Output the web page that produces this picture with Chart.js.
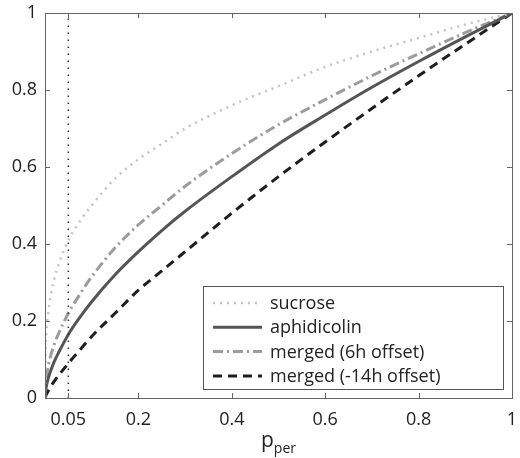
<!DOCTYPE html>
<html>
<head>
<meta charset="utf-8">
<script src="https://cdn.jsdelivr.net/npm/chart.js@4.4.1/dist/chart.umd.min.js"></script>
<style>
html, body { margin: 0; padding: 0; background: #fff; }
#wrap { width: 520px; height: 458px; }
</style>
</head>
<body>
<div id="wrap"><canvas id="fit-chart"></canvas></div>
<script>
// values
const pPer        = [0, 0.002, 0.005, 0.01, 0.02, 0.03, 0.05, 0.075, 0.1, 0.15, 0.2, 0.25, 0.3, 0.4, 0.5, 0.6, 0.7, 0.8, 0.9, 1];
const sucrose     = [0, 0.15, 0.20, 0.25, 0.31, 0.35, 0.41, 0.46, 0.50, 0.57, 0.62, 0.66, 0.70, 0.76, 0.81, 0.86, 0.90, 0.935, 0.97, 1];
const aphidicolin = [0, 0.024, 0.042, 0.063, 0.095, 0.12, 0.165, 0.21, 0.25, 0.32, 0.38, 0.435, 0.485, 0.575, 0.66, 0.735, 0.807, 0.874, 0.938, 1];
const merged6h    = [0, 0.045, 0.07, 0.10, 0.14, 0.17, 0.22, 0.27, 0.315, 0.39, 0.45, 0.50, 0.55, 0.635, 0.71, 0.775, 0.837, 0.894, 0.949, 1];
const merged14h   = [0, 0.007, 0.014, 0.025, 0.044, 0.06, 0.09, 0.125, 0.16, 0.22, 0.28, 0.33, 0.38, 0.48, 0.575, 0.665, 0.752, 0.837, 0.919, 1];
const cutoffX = [0.05, 0.05];
const cutoffY = [0, 1];

const xTicks = [0.05, 0.2, 0.4, 0.6, 0.8, 1];
const yTicks = [0, 0.2, 0.4, 0.6, 0.8, 1];
const seriesNames = ['sucrose', 'aphidicolin', 'merged (6h offset)', 'merged (-14h offset)'];

const FONT = '"Open Sans", "Liberation Sans", sans-serif';
const toPoints = (xs, ys) => xs.map((x, i) => ({ x: x, y: ys[i] }));

function lineSet(label, ys, color, width, dash) {
    return {
        label: label,
        data: toPoints(pPer, ys),
        borderColor: color,
        backgroundColor: color,
        borderWidth: width,
        borderDash: dash,
        borderCapStyle: 'butt',
        pointRadius: 0,
        cubicInterpolationMode: 'monotone',
        fill: false
    };
}

const datasets = [
    {
        label: 'cutoff',
        data: toPoints(cutoffX, cutoffY),
        borderColor: '#333',
        borderWidth: 1.5,
        borderDash: [1.5, 5.5],
        pointRadius: 0,
        fill: false,
        inLegend: false
    },
    lineSet(seriesNames[0], sucrose, '#c4c4c4', 2.5, [2, 5]),
    lineSet(seriesNames[1], aphidicolin, '#555555', 3, []),
    lineSet(seriesNames[2], merged6h, '#9c9c9c', 3, [10, 4, 2, 4]),
    lineSet(seriesNames[3], merged14h, '#1e1e1e', 3, [9, 6])
];

// box around the plot, ticks pointing inwards, legend box, subscripted axis title
const framePlugin = {
    id: 'frame',
    afterDatasetsDraw(chart) {
        const ctx = chart.ctx;
        const a = chart.chartArea;
        const xs = chart.scales.x, ys = chart.scales.y;
        ctx.save();
        ctx.strokeStyle = '#666';
        ctx.lineWidth = 1;
        ctx.strokeRect(a.left + 0.5, a.top + 0.5, a.right - a.left, a.bottom - a.top);
        ctx.beginPath();
        xTicks.forEach((v) => {
            const px = Math.round(xs.getPixelForValue(v)) + 0.5;
            ctx.moveTo(px, a.bottom); ctx.lineTo(px, a.bottom - 5);
            ctx.moveTo(px, a.top); ctx.lineTo(px, a.top + 5);
        });
        yTicks.forEach((v) => {
            const py = Math.round(ys.getPixelForValue(v)) + 0.5;
            ctx.moveTo(a.left, py); ctx.lineTo(a.left + 5, py);
            ctx.moveTo(a.right, py); ctx.lineTo(a.right - 5, py);
        });
        ctx.stroke();

        // legend
        const bw = 300, bh = 103;
        const bx = a.right - 9 - bw, by = a.bottom - 9 - bh;
        ctx.fillStyle = '#fff';
        ctx.fillRect(bx, by, bw, bh);
        ctx.strokeStyle = '#555';
        ctx.strokeRect(bx + 0.5, by + 0.5, bw, bh);
        ctx.font = '18px ' + FONT;
        ctx.textBaseline = 'middle';
        ctx.textAlign = 'left';
        chart.data.datasets.filter((d) => d.inLegend !== false).forEach((d, i) => {
            const ry = by + 17 + i * 24.3;
            ctx.setLineDash(d.borderDash || []);
            ctx.strokeStyle = d.borderColor;
            ctx.lineWidth = d.borderWidth;
            ctx.beginPath();
            ctx.moveTo(bx + 10, ry); ctx.lineTo(bx + 59, ry);
            ctx.stroke();
            ctx.setLineDash([]);
            ctx.fillStyle = '#222';
            ctx.fillText(d.label, bx + 67, ry + 1);
        });

        // x axis title p_per
        const cx = (a.left + a.right) / 2;
        ctx.fillStyle = '#222';
        ctx.textBaseline = 'alphabetic';
        ctx.font = '21px ' + FONT;
        const wp = ctx.measureText('p').width;
        ctx.font = '14px ' + FONT;
        const ws = ctx.measureText('per').width;
        const sx = cx - (wp + ws) / 2;
        ctx.font = '21px ' + FONT;
        ctx.fillText('p', sx, a.bottom + 49);
        ctx.font = '14px ' + FONT;
        ctx.fillText('per', sx + wp, a.bottom + 55);
        ctx.restore();
    }
};

const ctx = document.getElementById('fit-chart').getContext('2d');
const fitChart = new Chart(ctx, {
    type: 'line',
    data: { datasets: datasets },
    options: {
        responsive: true,
        maintainAspectRatio: false,
        animation: false,
        layout: { padding: { top: 13, right: 8, left: 0, bottom: 0 } },
        plugins: {
            legend: { display: false },
            tooltip: { enabled: false }
        },
        scales: {
            x: {
                type: 'linear',
                min: 0,
                max: 1,
                afterBuildTicks: (scale) => { scale.ticks = xTicks.map((v) => ({ value: v })); },
                afterFit: (scale) => { scale.height = 60; },
                // marks drawn by the frame plugin; tickLength only spaces the labels
                grid: { display: false, tickLength: 11 },
                border: { display: false },
                ticks: {
                    padding: 0,
                    maxRotation: 0,
                    autoSkip: false,
                    color: '#222',
                    font: { family: FONT, size: 18 },
                    callback: (v) => String(v)
                }
            },
            y: {
                type: 'linear',
                min: 0,
                max: 1,
                afterBuildTicks: (scale) => { scale.ticks = yTicks.map((v) => ({ value: v })); },
                afterFit: (scale) => { scale.width = 45; },
                grid: { display: false, tickLength: 8 },
                border: { display: false },
                ticks: {
                    padding: 0,
                    autoSkip: false,
                    color: '#222',
                    font: { family: FONT, size: 18 },
                    callback: (v) => String(v)
                }
            }
        }
    },
    plugins: [framePlugin]
});
</script>
</body>
</html>
